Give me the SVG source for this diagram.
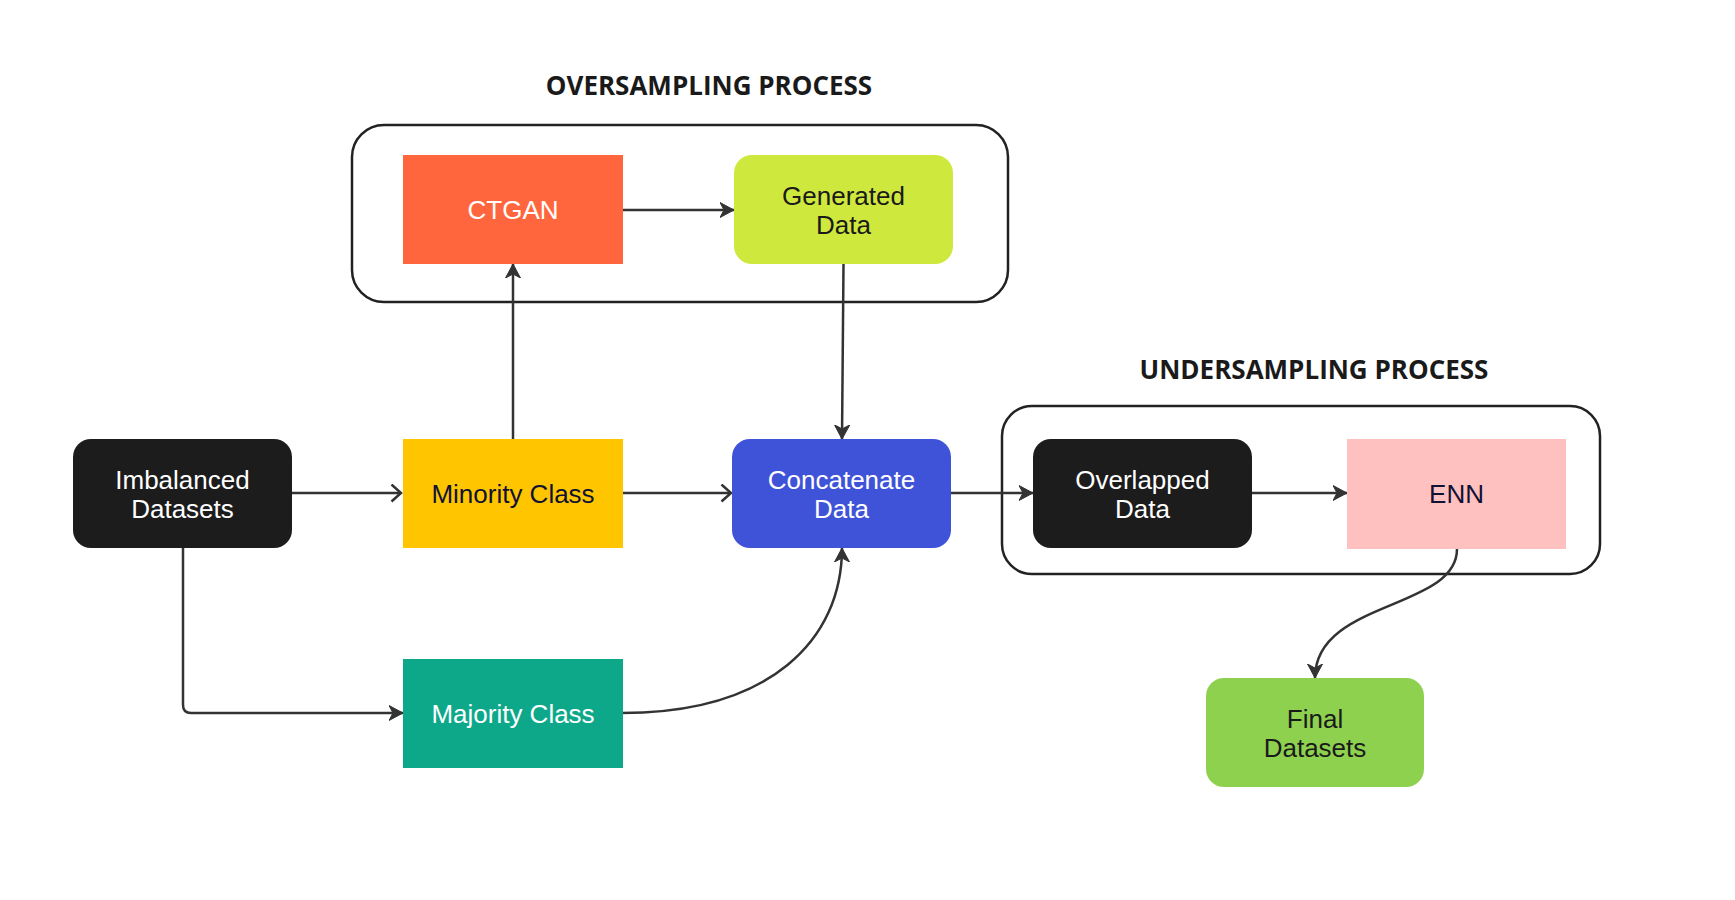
<svg xmlns="http://www.w3.org/2000/svg" width="1735" height="900" viewBox="0 0 1735 900">
<style>
.lbl{font-family:"Liberation Sans",Arial,sans-serif;font-size:26px;text-anchor:middle}
.w{fill:#ffffff}
.d{fill:#111133}
.k{fill:#1a1a1a}
.title{font-family:"Open Sans","Noto Sans",sans-serif;font-size:26px;font-weight:bold;fill:#1a1a1a;text-anchor:middle}
.grp{fill:none;stroke:#222222;stroke-width:2.5}
.c{fill:none;stroke:#333333;stroke-width:2.5}
</style>
<defs>
<marker id="af" markerUnits="userSpaceOnUse" markerWidth="16" markerHeight="18" refX="14" refY="8" orient="auto">
<path d="M0,0.5 L14,8 L0,15.5 L4,8 z" fill="#333333" stroke="#333333" stroke-width="1" stroke-linejoin="round"/>
</marker>
<marker id="ao" markerUnits="userSpaceOnUse" markerWidth="14" markerHeight="20" refX="11" refY="9" orient="auto">
<path d="M1.5,0.5 L11,9 L1.5,17.5" fill="none" stroke="#333333" stroke-width="2.5"/>
</marker>
</defs>
<rect width="1735" height="900" fill="#ffffff"/>
<g id="oversampling-group">
<rect class="grp" x="352" y="125" width="656" height="177" rx="32"/>
<text class="title" x="709" y="95">OVERSAMPLING PROCESS</text>
</g>
<g id="undersampling-group">
<rect class="grp" x="1002" y="406" width="598" height="168" rx="30"/>
<text class="title" x="1314" y="379">UNDERSAMPLING PROCESS</text>
</g>
<g id="connectors">
<path class="c" d="M292,493 L401,493" marker-end="url(#ao)"/>
<path class="c" d="M183,548 L183,705 Q183,713 191,713 L403,713" marker-end="url(#af)"/>
<path class="c" d="M513,439 L513,264" marker-end="url(#af)"/>
<path class="c" d="M622,210 L734,210" marker-end="url(#af)"/>
<path class="c" d="M843.5,264 L842,439" marker-end="url(#af)"/>
<path class="c" d="M622,493 L731,493" marker-end="url(#ao)"/>
<path class="c" d="M622,713 C770,713 842,640 842,548" marker-end="url(#af)"/>
<path class="c" d="M951,493 L1033,493" marker-end="url(#af)"/>
<path class="c" d="M1252,493 L1347,493" marker-end="url(#af)"/>
<path class="c" d="M1457,549 C1457,610 1315,600 1315,678" marker-end="url(#af)"/>
</g>
<g id="imbalanced-datasets">
<rect x="73" y="439" width="219" height="109" rx="18" fill="#1c1c1c"/>
<text class="lbl w" x="182.5" y="489">Imbalanced</text>
<text class="lbl w" x="182.5" y="518">Datasets</text>
</g>
<g id="minority-class">
<rect x="403" y="439" width="220" height="109" fill="#ffc600"/>
<text class="lbl d" x="513" y="503">Minority Class</text>
</g>
<g id="majority-class">
<rect x="403" y="659" width="220" height="109" fill="#0da88a"/>
<text class="lbl w" x="513" y="723">Majority Class</text>
</g>
<g id="ctgan">
<rect x="403" y="155" width="220" height="109" fill="#ff663e"/>
<text class="lbl w" x="513" y="219">CTGAN</text>
</g>
<g id="generated-data">
<rect x="734" y="155" width="219" height="109" rx="18" fill="#cfe83e"/>
<text class="lbl k" x="843.5" y="205">Generated</text>
<text class="lbl k" x="843.5" y="234">Data</text>
</g>
<g id="concatenate-data">
<rect x="732" y="439" width="219" height="109" rx="18" fill="#3f53d8"/>
<text class="lbl w" x="841.5" y="489">Concatenate</text>
<text class="lbl w" x="841.5" y="518">Data</text>
</g>
<g id="overlapped-data">
<rect x="1033" y="439" width="219" height="109" rx="18" fill="#1c1c1c"/>
<text class="lbl w" x="1142.5" y="489">Overlapped</text>
<text class="lbl w" x="1142.5" y="518">Data</text>
</g>
<g id="enn">
<rect x="1347" y="439" width="219" height="110" fill="#ffc0c0"/>
<text class="lbl d" x="1456.5" y="503">ENN</text>
</g>
<g id="final-datasets">
<rect x="1206" y="678" width="218" height="109" rx="18" fill="#8ed14f"/>
<text class="lbl k" x="1315" y="728">Final</text>
<text class="lbl k" x="1315" y="757">Datasets</text>
</g>
</svg>
